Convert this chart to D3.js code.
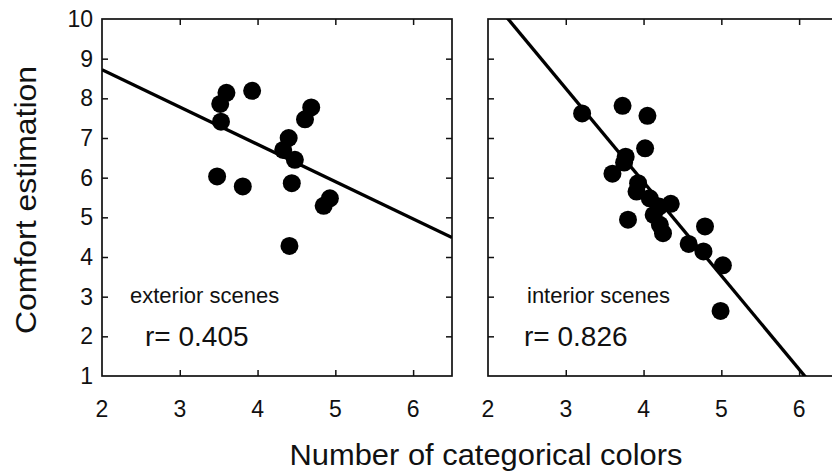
<!DOCTYPE html>
<html>
<head>
<meta charset="utf-8">
<script src="https://cdn.jsdelivr.net/npm/d3@7"></script>
<style>
  html, body { margin: 0; padding: 0; background: #fff; }
  svg { display: block; font-family: "Liberation Sans", Arial, Helvetica, sans-serif; }
</style>
</head>
<body>
<svg id="chart" width="832" height="473"></svg>
<script>
// Exterior scenes: number of categorical colours vs. comfort estimation
const exteriorX = [3.60, 3.52, 3.53, 3.93, 4.69, 4.61, 4.40, 4.33, 4.48, 3.48, 3.81, 4.44, 4.93, 4.85, 4.41];
const exteriorY = [8.14, 7.86, 7.41, 8.19, 7.77, 7.47, 7.00, 6.70, 6.45, 6.03, 5.78, 5.86, 5.48, 5.29, 4.28];
// Interior scenes
const interiorX = [3.21, 3.73, 4.05, 4.02, 3.77, 3.75, 3.60, 3.93, 3.91, 4.08, 4.35, 4.20, 4.13, 3.80, 4.21, 4.25, 4.79, 4.58, 4.77, 5.02, 4.99];
const interiorY = [7.62, 7.81, 7.56, 6.74, 6.53, 6.38, 6.10, 5.86, 5.65, 5.48, 5.34, 5.27, 5.06, 4.94, 4.81, 4.60, 4.77, 4.33, 4.14, 3.79, 2.64];

// Regression lines: y = intercept + slope * x
const fits = [
  { intercept: 10.60, slope: -0.94 },
  { intercept: 15.33, slope: -2.36 }
];
const panelNames = ["exterior scenes", "interior scenes"];
const panelR = ["r= 0.405", "r= 0.826"];

const xTicks = [2, 3, 4, 5, 6];
const yTicks = [1, 2, 3, 4, 5, 6, 7, 8, 9, 10];
const xDomain = [2, 6.5];
const yDomain = [1, 10];

const svg = d3.select("#chart");
const plotTop = 19, plotBottom = 376, panelW = 350;
const panelLeft = [102, 488];
const y = d3.scaleLinear().domain(yDomain).range([plotBottom, plotTop]);

const panels = [
  { xs: exteriorX, ys: exteriorY },
  { xs: interiorX, ys: interiorY }
];

panels.forEach((p, i) => {
  const x0 = panelLeft[i];
  const x = d3.scaleLinear().domain(xDomain).range([x0, x0 + panelW]);
  const g = svg.append("g");
  const clipId = "clip" + i;
  svg.append("clipPath").attr("id", clipId)
    .append("rect").attr("x", x0).attr("y", plotTop).attr("width", panelW).attr("height", plotBottom - plotTop);

  // inward ticks on all four sides
  const inner = xTicks.filter(t => t > xDomain[0]);
  const innerY = yTicks.filter(t => t > yDomain[0] && t < yDomain[1]);
  const tk = 6;
  g.append("g").attr("transform", `translate(0,${plotBottom})`)
    .call(d3.axisBottom(x).tickValues(inner).tickSize(-tk).tickFormat(""))
    .call(a => a.select(".domain").remove());
  g.append("g").attr("transform", `translate(0,${plotTop})`)
    .call(d3.axisTop(x).tickValues(inner).tickSize(-tk).tickFormat(""))
    .call(a => a.select(".domain").remove());
  g.append("g").attr("transform", `translate(${x0},0)`)
    .call(d3.axisLeft(y).tickValues(innerY).tickSize(-tk).tickFormat(""))
    .call(a => a.select(".domain").remove());
  g.append("g").attr("transform", `translate(${x0 + panelW},0)`)
    .call(d3.axisRight(y).tickValues(innerY).tickSize(-tk).tickFormat(""))
    .call(a => a.select(".domain").remove());
  g.selectAll(".tick line").attr("stroke", "#111").attr("stroke-width", 1.5);

  // frame
  g.append("rect").attr("x", x0).attr("y", plotTop).attr("width", panelW).attr("height", plotBottom - plotTop)
    .attr("fill", "none").attr("stroke", "#111").attr("stroke-width", 1.7);

  // x tick labels
  g.selectAll("text.xl").data(xTicks).enter().append("text")
    .attr("x", d => x(d)).attr("y", 417)
    .attr("text-anchor", "middle").attr("font-size", 23).attr("fill", "#111")
    .text(d => d);

  // regression line
  const f = fits[i];
  g.append("line")
    .attr("clip-path", `url(#${clipId})`)
    .attr("x1", x(xDomain[0])).attr("y1", y(f.intercept + f.slope * xDomain[0]))
    .attr("x2", x(xDomain[1])).attr("y2", y(f.intercept + f.slope * xDomain[1]))
    .attr("stroke", "#000").attr("stroke-width", 3.3);

  // points
  g.selectAll("circle").data(p.xs.map((v, k) => [v, p.ys[k]])).enter().append("circle")
    .attr("cx", d => x(d[0])).attr("cy", d => y(d[1])).attr("r", 9).attr("fill", "#000");

  // panel labels
  g.append("text").attr("x", i === 0 ? 130 : 527).attr("y", 303)
    .attr("font-size", 22).attr("fill", "#111").text(panelNames[i]);
  g.append("text").attr("x", i === 0 ? 145 : 524).attr("y", 346)
    .attr("font-size", 28).attr("fill", "#111").text(panelR[i]);
});

// y tick labels (left panel only)
svg.selectAll("text.yl").data(yTicks).enter().append("text")
  .attr("x", 93).attr("y", d => y(d) + 8)
  .attr("text-anchor", "end").attr("font-size", 23).attr("fill", "#111")
  .text(d => d);

// axis titles
svg.append("text").attr("transform", "translate(36,200) rotate(-90)")
  .attr("text-anchor", "middle").attr("font-size", 29).attr("fill", "#111")
  .attr("textLength", 268).attr("lengthAdjust", "spacingAndGlyphs")
  .text("Comfort estimation");
svg.append("text").attr("x", 486).attr("y", 465)
  .attr("text-anchor", "middle").attr("font-size", 29).attr("fill", "#111")
  .attr("textLength", 393).attr("lengthAdjust", "spacingAndGlyphs")
  .text("Number of categorical colors");
</script>
</body>
</html>
